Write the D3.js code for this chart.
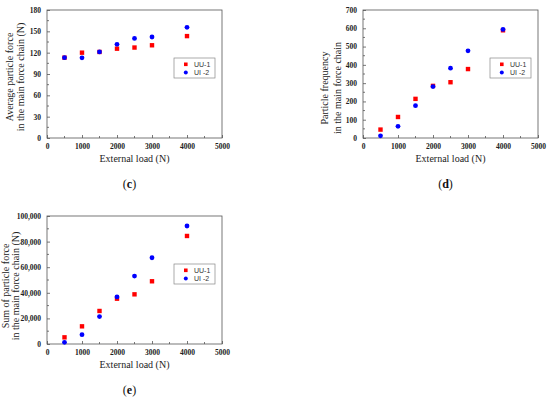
<!DOCTYPE html>
<html>
<head>
<meta charset="utf-8">
<script src="https://cdn.jsdelivr.net/npm/d3@7"></script>
<style>
  body { margin: 0; background: #fff; }
  svg { display: block; }
</style>
</head>
<body>
<svg width="550" height="399"></svg>
<script>
// external load (N)
const loads = [500, 1000, 1500, 2000, 2500, 3000, 4000];
const seriesNames = ["UU-1", "UI -2"];

// (c) average particle force
const avgForceUU = [113, 120, 121, 125.6, 127.2, 130.4, 143.3];
const avgForceUI = [113, 112.8, 121, 131.7, 140, 142, 155.6];
// (d) particle frequency
const freqUU = [46, 115, 214, 285, 305, 377, 589];
const freqUI = [12, 64, 177, 281, 382, 477, 594];
// (e) sum of particle force
const sumForceUU = [5200, 13800, 25800, 35400, 38800, 49000, 84400];
const sumForceUI = [1300, 7300, 21400, 36800, 53100, 67400, 92200];

const xTicks = [0, 1000, 2000, 3000, 4000, 5000];

const svg = d3.select("svg");
const serif = "'Liberation Serif', 'Times New Roman', serif";

function panel(cfg) {
  const w = 175, h = 128;
  const g = svg.append("g").attr("transform", `translate(${cfg.left},${cfg.top})`);

  const x = d3.scaleLinear().domain([0, 5000]).range([0, w]);
  const y = d3.scaleLinear().domain([0, cfg.yMax]).range([h, 0]);

  // frame
  g.append("rect")
    .attr("width", w).attr("height", h)
    .attr("fill", "none").attr("stroke", "#555").attr("stroke-width", 0.8);

  // minor ticks
  g.selectAll(".mx").data(d3.range(500, 5000, 1000)).enter().append("line")
    .attr("x1", d => x(d)).attr("x2", d => x(d))
    .attr("y1", h).attr("y2", h - 2)
    .attr("stroke", "#555").attr("stroke-width", 0.8);
  g.selectAll(".my").data(d3.range(cfg.yStep / 2, cfg.yMax, cfg.yStep)).enter().append("line")
    .attr("y1", d => y(d)).attr("y2", d => y(d))
    .attr("x1", 0).attr("x2", 2)
    .attr("stroke", "#555").attr("stroke-width", 0.8);

  // major ticks, drawn inward
  const xAxis = g.append("g").attr("transform", `translate(0,${h})`)
    .call(d3.axisBottom(x).tickValues(xTicks).tickSizeInner(-3).tickSizeOuter(0).tickPadding(6).tickFormat(d3.format("d")));
  const yAxis = g.append("g")
    .call(d3.axisLeft(y).tickValues(d3.range(0, cfg.yMax + 1, cfg.yStep)).tickSizeInner(-3).tickSizeOuter(0).tickPadding(6).tickFormat(cfg.fmt));

  [xAxis, yAxis].forEach(a => {
    a.select(".domain").remove();
    a.selectAll("line").attr("stroke", "#555").attr("stroke-width", 0.8);
    a.selectAll("text")
      .attr("font-family", serif).attr("font-size", 7.5)
      .attr("font-weight", "bold").attr("fill", "#222");
  });

  // points
  g.selectAll(".uu").data(loads).enter().append("rect")
    .attr("x", (d, i) => x(d) - 2.2).attr("y", (d, i) => y(cfg.uu[i]) - 2.2)
    .attr("width", 4.4).attr("height", 4.4).attr("fill", "#ff0000");
  g.selectAll(".ui").data(loads).enter().append("circle")
    .attr("cx", d => x(d)).attr("cy", (d, i) => y(cfg.ui[i]))
    .attr("r", 2.4).attr("fill", "#0000ff");

  // legend
  const lg = g.append("g").attr("transform", "translate(127,48)");
  lg.append("rect").attr("width", 41).attr("height", 20)
    .attr("fill", "#fff").attr("stroke", "#888").attr("stroke-width", 0.7);
  lg.append("rect").attr("x", 10).attr("y", 4.5).attr("width", 3.6).attr("height", 3.6).attr("fill", "#ff0000");
  lg.append("circle").attr("cx", 11.8).attr("cy", 14.6).attr("r", 2).attr("fill", "#0000ff");
  lg.selectAll("text").data(seriesNames).enter().append("text")
    .attr("x", 20).attr("y", (d, i) => 8.8 + i * 8.4)
    .attr("font-family", "'Liberation Sans', Arial, sans-serif").attr("font-size", 7)
    .attr("fill", "#333").text(d => d);

  // axis titles
  g.append("text")
    .attr("x", w / 2).attr("y", h + 24)
    .attr("text-anchor", "middle")
    .attr("font-family", serif).attr("font-size", 10).attr("fill", "#222")
    .text("External load (N)");

  const yt = g.append("text")
    .attr("transform", `translate(0,${h / 2 + cfg.titleDy}) rotate(-90)`)
    .attr("text-anchor", "middle")
    .attr("font-family", serif).attr("font-size", 10).attr("fill", "#222");
  cfg.yTitle.forEach((t, i) => {
    yt.append("tspan").attr("x", 0).attr("y", cfg.titleX[i]).text(t);
  });

  // panel label
  const pl = svg.append("text")
    .attr("x", cfg.left + w / 2 - 5).attr("y", cfg.top + 178)
    .attr("text-anchor", "middle")
    .attr("font-family", serif).attr("font-size", 12).attr("fill", "#111");
  pl.append("tspan").text("(");
  pl.append("tspan").attr("font-weight", "bold").text(cfg.label);
  pl.append("tspan").text(")");
}

panel({
  left: 47, top: 10, yMax: 180, yStep: 30, fmt: d3.format("d"),
  uu: avgForceUU, ui: avgForceUI, label: "c",
  yTitle: ["Average particle force", "in the main force chain (N)"],
  titleX: [-34, -23], titleDy: 3
});

panel({
  left: 363, top: 10, yMax: 700, yStep: 100, fmt: d3.format("d"),
  uu: freqUU, ui: freqUI, label: "d",
  yTitle: ["Particle frequency", "in the main force chain"],
  titleX: [-35.5, -22.5], titleDy: 14
});

panel({
  left: 47, top: 216, yMax: 100000, yStep: 20000, fmt: d3.format(","),
  uu: sumForceUU, ui: sumForceUI, label: "e",
  yTitle: ["Sum of particle force", "in the main force chain (N)"],
  titleX: [-38.5, -28], titleDy: 6
});
</script>
</body>
</html>
